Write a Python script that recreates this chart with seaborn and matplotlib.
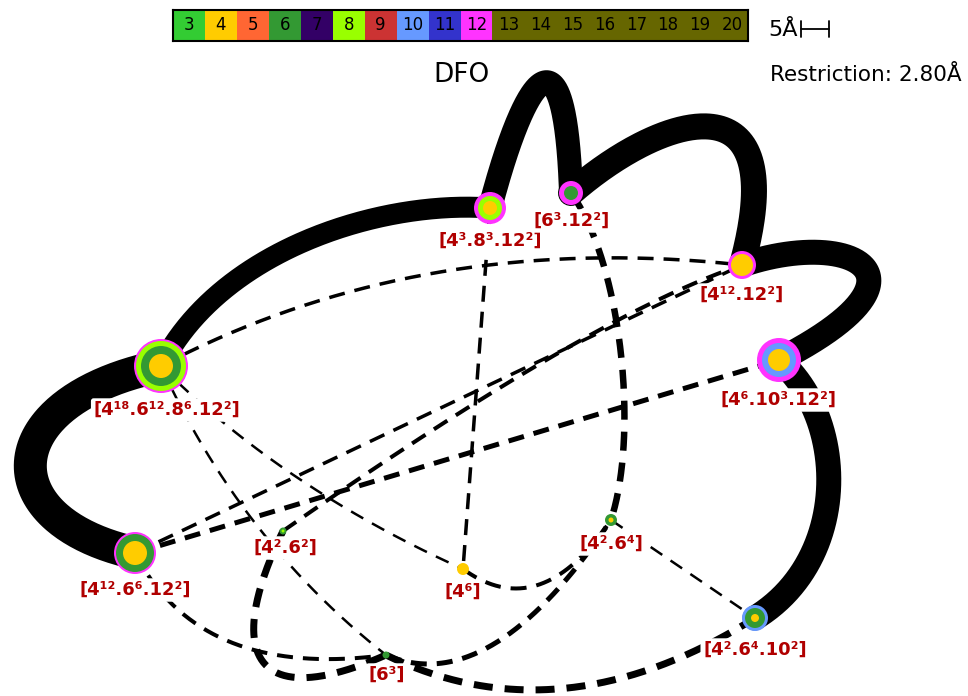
import numpy as np
import pandas as pd
import matplotlib
matplotlib.use("Agg")
import matplotlib.pyplot as plt
import seaborn as sns
from matplotlib.colors import ListedColormap
from math import comb

# ring size colour key
ring_sizes = list(range(3, 21))
ring_colors = ["#33CC33", "#FFCC00", "#FF6633", "#339933", "#330066", "#99FF00",
               "#CC3333", "#6699FF", "#3333CC", "#FF33FF"] + ["#666600"] * 8

# nodes of the net (pixel space of the drawing)
node_names = ["A", "B", "C", "D", "E", "F", "G", "H", "I", "J", "K"]
node_x = [490, 571, 742, 779, 161, 135, 283, 463, 611, 755, 386]
node_y = [208, 193, 265, 360, 366, 553, 531, 569, 520, 618, 655]
node_labels = ["[4³.8³.12²]", "[6³.12²]", "[4¹².12²]", "[4⁶.10³.12²]",
               "[4¹⁸.6¹².8⁶.12²]", "[4¹².6⁶.12²]", "[4².6²]", "[4⁶]",
               "[4².6⁴]", "[4².6⁴.10²]", "[6³]"]
# rings around each node, outer to inner
node_rings = [[12, 8, 4], [12, 6], [12, 4], [12, 10, 4], [12, 8, 6, 4],
              [12, 6, 4], [6, 8], [4], [6, 4], [10, 6, 4], [6]]

# bonds leaving the cell (solid) and bonds inside (dashed)
solid_bonds = [("E", "A"), ("A", "B"), ("B", "C"), ("C", "D"), ("D", "J"), ("E", "F")]
solid_bends = [[(220, 250), (380, 200)], [(525, 75), (565, 15)], [(660, 115), (795, 70)],
               [(850, 228), (945, 275)], [(848, 420), (850, 560)], [(-5, 400), (-12, 520)]]
dashed_bonds = [("E", "C"), ("F", "C"), ("G", "C"), ("F", "D"), ("E", "H"), ("E", "K"),
                ("A", "H"), ("B", "I"), ("H", "I"), ("K", "I"), ("I", "J"), ("F", "K"),
                ("G", "K"), ("K", "J")]
dashed_bends = [[(420, 230)], [], [(592, 315)], [], [(283, 488)], [(240, 540)],
                [], [(620, 260), (640, 430)], [(540, 625)], [(490, 700)], [], [(200, 680)],
                [(225, 650), (250, 715)], [(560, 740)]]

# styles (widths in pixels)
solid_w = [21, 24, 26, 25, 25, 33]
dashed_w = [3.5, 3.5, 4, 5, 2.5, 2.5, 3.5, 6.5, 4, 5, 2.5, 4, 7, 7]
ring_r = [[16, 12, 7], [12, 7], [14, 11], [22, 17, 11], [27, 25, 20, 12],
          [21, 19, 12], [3.5, 1.5], [6], [6, 2.5], [13, 10, 4], [3.5]]
label_dx = [0, 1, 0, 0, 6, 0, 2, 0, 0, 0, 1]
label_dy = [33, 28, 30, 40, 44, 37, 17, 23, 24, 32, 20]

W, H = 968, 696
PX = 72 / 100  # points per pixel


def bezier(p0, ctrl, p1, n=150):
    pts = np.array([p0] + list(ctrl) + [p1], dtype=float)
    t = np.linspace(0, 1, n)[:, None]
    k = len(pts) - 1
    out = np.zeros((n, 2))
    for i, p in enumerate(pts):
        out += comb(k, i) * t ** i * (1 - t) ** (k - i) * p
    return out[:, 0], out[:, 1]


pos = {n: (x, y) for n, x, y in zip(node_names, node_x, node_y)}

sns.set_theme(style="white")
plt.rcParams["font.family"] = ["DejaVu Sans"]
plt.rcParams["text.color"] = "black"

fig = plt.figure(figsize=(9.68, 6.96), dpi=100)
ax = fig.add_axes([0, 0, 1, 1])
ax.set_xlim(0, W)
ax.set_ylim(H, 0)
ax.axis("off")

# solid bonds
for (a, b), bend, w in zip(solid_bonds, solid_bends, solid_w):
    x, y = bezier(pos[a], bend, pos[b])
    ax.plot(x, y, color="black", lw=w * PX, solid_capstyle="round", zorder=1)

# dashed bonds
for (a, b), bend, w in zip(dashed_bonds, dashed_bends, dashed_w):
    x, y = bezier(pos[a], bend, pos[b])
    on = 14 if w < 3 else (16 if w < 6 else 19)
    off = 10 if w < 6 else 12
    ax.plot(x, y, color="black", lw=w * PX, dashes=(on / w, off / w),
            dash_capstyle="butt", zorder=2)

# nodes as concentric rings
rows = []
for n, x, y, rings, radii in zip(node_names, node_x, node_y, node_rings, ring_r):
    for rs, r in zip(rings, radii):
        rows.append({"x": x, "y": y, "ring": rs, "r": r})
rings_df = pd.DataFrame(rows).sort_values("r", ascending=False)
palette = dict(zip(ring_sizes, ring_colors))
sns.scatterplot(data=rings_df, x="x", y="y", hue="ring", palette=palette,
                s=(2 * rings_df["r"] * PX) ** 2, linewidth=0, legend=False,
                ax=ax, zorder=3)

# labels
for x, y, lab, dx, dy in zip(node_x, node_y, node_labels, label_dx, label_dy):
    ax.text(x + dx, y + dy, lab, color="#B00000", fontsize=13, fontweight="bold",
            ha="center", va="center", zorder=4,
            bbox=dict(boxstyle="round,pad=0.15", fc="white", ec="none"))

ax.text(462, 75, "DFO", fontsize=19, ha="center", va="center", color="black")
ax.text(962, 75, "Restriction: 2.80Å", fontsize=15.5, ha="right", va="center",
        color="black")

# scale bar
ax.text(783, 30, "5Å", fontsize=16, ha="center", va="center", color="black")
ax.plot([801, 829], [29, 29], color="black", lw=1.3)
ax.plot([801, 801], [21, 37], color="black", lw=1.3)
ax.plot([829, 829], [21, 37], color="black", lw=1.3)

# colour key
kax = fig.add_axes([173 / W, 1 - 41 / H, 575 / W, 31 / H])
sns.heatmap(np.array([ring_sizes]), cmap=ListedColormap(ring_colors),
            vmin=2.5, vmax=20.5, annot=True, fmt="d", cbar=False,
            annot_kws={"color": "black", "fontsize": 12},
            xticklabels=False, yticklabels=False, ax=kax)
for sp in kax.spines.values():
    sp.set_visible(True)
    sp.set_color("black")
    sp.set_linewidth(1.5)

fig.savefig("out.png", dpi=100)
